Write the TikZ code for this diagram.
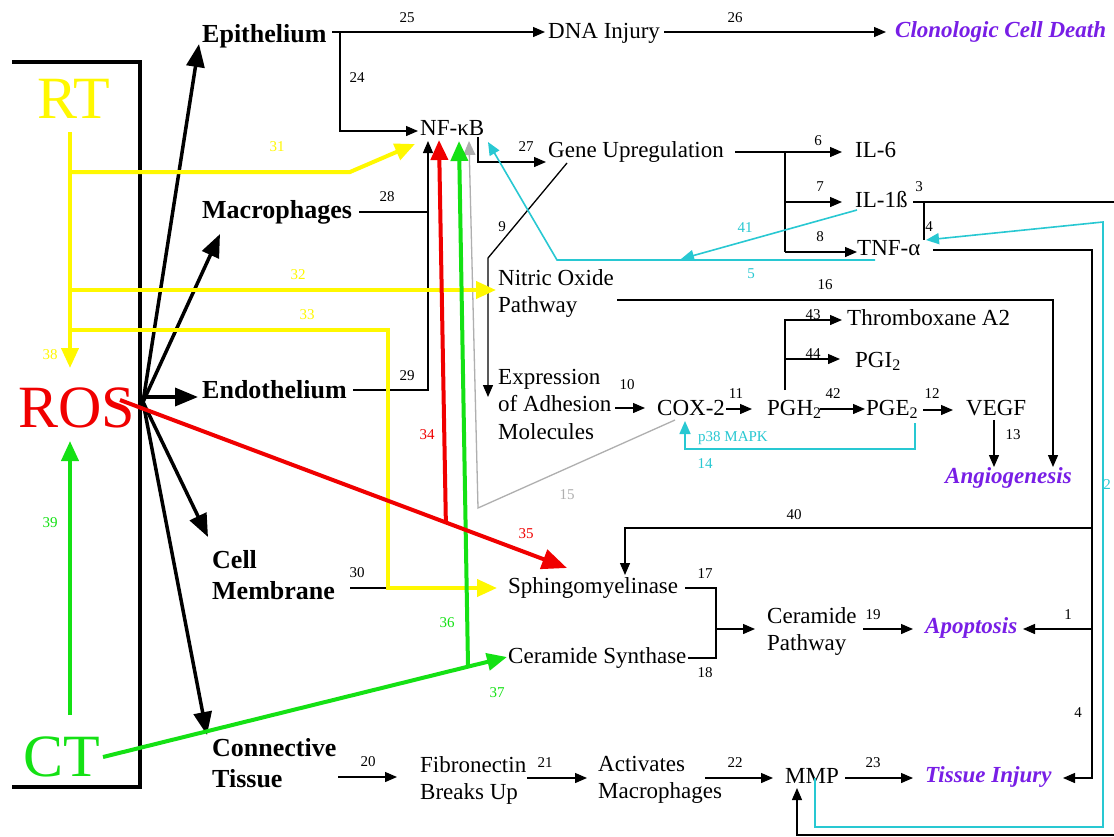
\documentclass[tikz,border=0pt]{standalone}
\usepackage{fontspec}
\setmainfont{Liberation Serif}
\usetikzlibrary{arrows.meta,calc}
\definecolor{ylw}{RGB}{255,248,0}
\definecolor{grn}{RGB}{20,225,20}
\definecolor{rd}{RGB}{240,0,0}
\definecolor{cyn}{RGB}{40,200,210}
\definecolor{gry}{RGB}{175,175,175}
\definecolor{prp}{RGB}{120,30,230}
\begin{document}
\begin{tikzpicture}[x=1pt,y=-1pt,
  txt/.style={font=\fontsize{23}{27.5}\selectfont, inner xsep=2pt, inner ysep=1pt, align=left},
  tis/.style={font=\fontsize{26}{31}\selectfont\bfseries, inner xsep=2pt, inner ysep=1pt, align=left},
  outc/.style={font=\fontsize{23}{27.5}\selectfont\bfseries\itshape, text=prp, inner xsep=2pt, inner ysep=1pt},
  num/.style={font=\fontsize{15}{15}\selectfont, inner sep=0pt},
  bigt/.style={font=\fontsize{60}{60}\selectfont, inner sep=0pt},
  ln/.style={line width=1.3pt},
  arr/.style={line width=1.3pt,-{Triangle[length=12pt,width=10pt]}},
  cyln/.style={line width=1.6pt,draw=cyn},
  cyarr/.style={cyln,-{Triangle[length=13pt,width=11pt]}},
  gyarr/.style={line width=1.3pt,draw=gry,-{Triangle[length=14pt,width=12pt]}},
  fat/.style={line width=4pt},
  fatarr/.style={line width=4pt,-{Triangle[length=20pt,width=17pt]}},
  bigarr/.style={line width=4pt,-{Triangle[length=25pt,width=20pt]}},
  hubarr/.style={line width=3.5pt,-{Triangle[length=23pt,width=18pt]}},
  bracket/.style={line width=4.5pt}
]
\useasboundingbox[fill=white] (0,0) rectangle (1114,836);

% ---------- big labels ----------
\node[bigt,text=ylw] (RT) at (74,99) {RT};
\node[bigt,text=rd] (ROS) at (77,408) {ROS};
\node[bigt,text=grn] (CT) at (62,757) {CT};

% ---------- tissues ----------
\node[tis,anchor=base west] (Epi) at (200,42) {Epithelium};
\node[tis,anchor=base west] (Mac) at (200,218) {Macrophages};
\node[tis,anchor=base west] (Endo) at (200,398) {Endothelium};
\node[tis,anchor=north west] (CellM) at (210,549) {Cell\\Membrane};
\node[tis,anchor=north west] (Conn) at (210,737) {Connective\\Tissue};

% ---------- pathway texts ----------
\node[txt,anchor=base west] (DNA) at (546,38) {DNA Injury};
\node[outc,anchor=base west] (Clono) at (893,37) {Clonologic Cell Death};
\node[txt,anchor=base west] (NFkB) at (418,135) {NF-κB};
\node[txt,anchor=base west] (Gene) at (546,157) {Gene Upregulation};
\node[txt,anchor=base west] (IL6) at (853,157) {IL-6};
\node[txt,anchor=base west] (IL1) at (853,207) {IL-1ß};
\node[txt,anchor=base west] (TNF) at (855,255) {TNF-α};
\node[txt,anchor=north west] (NO) at (496,268) {Nitric Oxide\\Pathway};
\node[txt,anchor=north west] (Expr) at (496,368) {Expression\\of Adhesion\\Molecules};
\node[txt,anchor=base west] (COX) at (655,415) {COX-2};
\node[txt,anchor=base west] (PGH) at (765,415) {PGH\textsubscript{2}};
\node[txt,anchor=base west] (PGE) at (864,415) {PGE\textsubscript{2}};
\node[txt,anchor=base west] (VEGF) at (964,415) {VEGF};
\node[txt,anchor=base west] (Thx) at (845,325) {Thromboxane A2};
\node[txt,anchor=base west] (PGI) at (853,367) {PGI\textsubscript{2}};
\node[outc,anchor=base west] (Angio) at (943,483) {Angiogenesis};
\node[txt,anchor=base west] (Sph) at (506,593) {Sphingomyelinase};
\node[txt,anchor=base west] (CerS) at (506,663) {Ceramide Synthase};
\node[txt,anchor=north west] (CerP) at (765,606) {Ceramide\\Pathway};
\node[outc,anchor=base west] (Apop) at (923,633) {Apoptosis};
\node[txt,anchor=north west] (Fib) at (418,755) {Fibronectin\\Breaks Up};
\node[txt,anchor=north west] (Act) at (596,755) {Activates\\Macrophages};
\node[txt,anchor=base west] (MMP) at (783,783) {MMP};
\node[outc,anchor=base west] (TInj) at (923,782) {Tissue Injury};
\node[font=\fontsize{15}{15}\selectfont,text=cyn,anchor=base west,inner sep=0pt] (p38) at (698,441) {p38 MAPK};

% ---------- bracket ----------
\draw[bracket] (12,62) -- (140,62) -- (140,787) -- (12,787);

% ---------- coordinates ----------
\coordinate (hub) at (143,402);
\coordinate (tEpi) at (199,44);
\coordinate (tMac) at (220,234);
\coordinate (tEndo) at (198,397);
\coordinate (tCell) at (208,537);
\coordinate (tConn) at (207,735);

% ---------- hub arrows ----------
\draw[hubarr] (hub) -- (tEpi);
\draw[hubarr] (hub) -- (tMac);
\draw[hubarr] (hub |- tEndo) -- (tEndo);
\draw[hubarr] (hub) -- (tCell);
\draw[hubarr] (hub) -- (tConn);

% ---------- thin black connectors ----------
\coordinate (e25) at (332,32);  \coordinate (t25) at (545,32);
\coordinate (b24) at (340,32);  \coordinate (c24) at (340,131); \coordinate (t24) at (418,131);
\coordinate (s26) at (664,32);  \coordinate (t26) at (886,32);
\coordinate (s28) at (359,212); \coordinate (c28) at (428,212); \coordinate (t28) at (428,141);
\coordinate (s29) at (353,390); \coordinate (c29) at (428,390);
\coordinate (s30) at (350,588); \coordinate (c30) at (388,588);
\coordinate (s20) at (338,777); \coordinate (t20) at (397,777);
\coordinate (s21) at (527,778); \coordinate (t21) at (587,778);
\coordinate (s22) at (705,778); \coordinate (t22) at (773,778);
\coordinate (s23) at (845,778); \coordinate (t23) at (913,778);
\coordinate (s27) at (478,137); \coordinate (c27) at (478,162); \coordinate (t27) at (546,162);
\coordinate (sG) at (735,152);  \coordinate (bG) at (785,152); \coordinate (t6) at (842,152);
\coordinate (b7) at (785,202);  \coordinate (t7) at (842,202);
\coordinate (b8) at (785,252);  \coordinate (t8) at (857,252);
\coordinate (s9) at (567,163);  \coordinate (c9) at (488,258); \coordinate (t9) at (488,397);
\coordinate (s16) at (617,300); \coordinate (c16) at (1053,300); \coordinate (t16) at (1053,467);
\coordinate (s10) at (615,408); \coordinate (t10) at (645,408);
\coordinate (s11) at (726,409); \coordinate (t11) at (752,409);
\coordinate (s42) at (820,409); \coordinate (t42) at (865,409);
\coordinate (s12) at (923,410); \coordinate (t12) at (953,410);
\coordinate (s13) at (994,420); \coordinate (t13) at (994,467);
\coordinate (s43) at (785,390); \coordinate (c43) at (785,320); \coordinate (t43) at (842,320);
\coordinate (b44) at (785,359); \coordinate (t44) at (840,359);
\coordinate (s17) at (685,588); \coordinate (c17) at (716,588);
\coordinate (c18) at (716,658); \coordinate (s18) at (688,658);
\coordinate (bCP) at (716,629); \coordinate (tCP) at (755,629);
\coordinate (s19) at (863,629); \coordinate (t19) at (913,629);
\coordinate (s3) at (913,202);  \coordinate (e3) at (1114,202);
\coordinate (b4) at (924,202);  \coordinate (e4) at (924,240);
\coordinate (sT) at (933,250);  \coordinate (cT) at (1092,250); \coordinate (dT) at (1092,778); \coordinate (tTI) at (1063,778);
\coordinate (b1) at (1092,629); \coordinate (t1) at (1023,629);
\coordinate (b40) at (1092,528); \coordinate (c40) at (625,528); \coordinate (t40) at (625,575);
\coordinate (sB) at (1114,835); \coordinate (cB) at (797,835); \coordinate (tB) at (797,788);

\draw[arr] (e25) -- (t25);
\draw[arr] (b24) -- (c24) -- (t24);
\draw[arr] (s26) -- (t26);
\draw[arr] (s28) -- (c28) -- (t28);
\draw[ln] (s29) -- (c29) -- (c28);
\draw[ln] (s30) -- (c30);
\draw[arr] (s20) -- (t20);
\draw[arr] (s21) -- (t21);
\draw[arr] (s22) -- (t22);
\draw[arr] (s23) -- (t23);
\draw[arr] (s27) -- (c27) -- (t27);
\draw[arr] (sG) -- (bG) -- (t6);
\draw[ln] (bG) -- (b8);
\draw[arr] (b7) -- (t7);
\draw[arr] (b8) -- (t8);
\draw[arr] (s9) -- (c9) -- (t9);
\draw[arr] (s16) -- (c16) -- (t16);
\draw[arr] (s10) -- (t10);
\draw[arr] (s11) -- (t11);
\draw[arr] (s42) -- (t42);
\draw[arr] (s12) -- (t12);
\draw[arr] (s13) -- (t13);
\draw[arr] (s43) -- (c43) -- (t43);
\draw[arr] (b44) -- (t44);
\draw[ln] (s17) -- (c17) -- (c18) -- (s18);
\draw[arr] (bCP) -- (tCP);
\draw[arr] (s19) -- (t19);
\draw[ln] (s3) -- (e3);
\draw[ln] (b4) -- (e4);
\draw[arr] (sT) -- (cT) -- (dT) -- (tTI);
\draw[arr] (b1) -- (t1);
\draw[arr] (b40) -- (c40) -- (t40);
\draw[arr] (sB) -- (cB) -- (tB);

% ---------- gray ----------
\coordinate (g15a) at (675,420); \coordinate (g15b) at (478,508); \coordinate (t15) at (469,141);
\draw[gyarr] (g15a) -- (g15b) -- (t15);

% ---------- cyan ----------
\coordinate (c5a) at (875,260); \coordinate (c5b) at (557,260); \coordinate (t5) at (488,142);
\draw[cyarr] (c5a) -- (c5b) -- (t5);
\coordinate (c41a) at (857,210); \coordinate (t41) at (681,259);
\draw[cyarr] (c41a) -- (t41);
\coordinate (c2a) at (815,778); \coordinate (c2b) at (815,827); \coordinate (c2c) at (1103,827);
\coordinate (c2d) at (1103,222); \coordinate (t2) at (926,240);
\draw[cyarr] (c2a) -- (c2b) -- (c2c) -- (c2d) -- (t2);
\coordinate (c14a) at (915,423); \coordinate (c14b) at (915,449); \coordinate (c14c) at (685,449); \coordinate (t14) at (685,421);
\draw[cyarr] (c14a) -- (c14b) -- (c14c) -- (t14);

% ---------- yellow ----------
\coordinate (rtS) at (70,132); \coordinate (tRos) at (70,368);
\draw[fatarr,draw=ylw] (rtS) -- (tRos);
\coordinate (y31) at (70,172); \coordinate (y31b) at (350,172); \coordinate (t31) at (415,144);
\draw[fatarr,draw=ylw] (y31) -- (y31b) -- (t31);
\coordinate (y32) at (70,290); \coordinate (t32) at (496,290);
\draw[fatarr,draw=ylw] (y32) -- (t32);
\coordinate (y33) at (70,330); \coordinate (y33b) at (388,330); \coordinate (y33c) at (388,588); \coordinate (t33) at (497,588);
\draw[fatarr,draw=ylw] (y33) -- (y33b) -- (y33c) -- (t33);

% ---------- green ----------
\coordinate (g39s) at (70,715); \coordinate (t39) at (70,441);
\draw[fatarr,draw=grn] (g39s) -- (t39);
\coordinate (g37s) at (103,757); \coordinate (t37) at (507,657);
\draw[fatarr,draw=grn] (g37s) -- (t37);
\coordinate (g36s) at ($(g37s)!0.9035!(t37)$); \coordinate (t36) at (459,141);
\draw[fatarr,draw=grn] (g36s) -- (t36);

% ---------- red ----------
\coordinate (r35s) at (120,400); \coordinate (t35) at (567,568);
\draw[bigarr,draw=rd] (r35s) -- (t35);
\coordinate (r34s) at ($(r35s)!0.729!(t35)$); \coordinate (t34) at (439,140);
\draw[fatarr,draw=rd] (r34s) -- (t34);

% ---------- number labels ----------
\node[num] (n25) at (407,18) {25};
\node[num] (n26) at (735,18) {26};
\node[num] (n24) at (357,78) {24};
\node[num,text=ylw] (n31) at (277,147) {31};
\node[num] (n28) at (387,197) {28};
\node[num] (n27) at (526,147) {27};
\node[num] (n9) at (502,227) {9};
\node[num] (n6) at (818,141) {6};
\node[num] (n7) at (820,187) {7};
\node[num] (n8) at (820,237) {8};
\node[num,text=cyn] (n41) at (745,228) {41};
\node[num,text=cyn] (n5) at (751,274) {5};
\node[num] (n3) at (919,187) {3};
\node[num] (n4a) at (929,227) {4};
\node[num,text=ylw] (n32) at (298,275) {32};
\node[num,text=ylw] (n33) at (307,315) {33};
\node[num,text=ylw] (n38) at (50,355) {38};
\node[num,text=grn] (n39) at (50,523) {39};
\node[num] (n29) at (407,376) {29};
\node[num,text=rd] (n34) at (427,435) {34};
\node[num] (n10) at (627,385) {10};
\node[num] (n11) at (736,394) {11};
\node[num,text=cyn] (n14) at (705,464) {14};
\node[num,text=gry] (n15) at (567,495) {15};
\node[num,text=rd] (n35) at (526,534) {35};
\node[num] (n16) at (825,285) {16};
\node[num] (n43) at (813,315) {43};
\node[num] (n44) at (813,354) {44};
\node[num] (n42) at (833,394) {42};
\node[num] (n12) at (932,394) {12};
\node[num] (n13) at (1013,435) {13};
\node[num] (n40) at (794,515) {40};
\node[num,text=cyn] (n2) at (1107,485) {2};
\node[num] (n30) at (357,573) {30};
\node[num] (n20) at (368,762) {20};
\node[num,text=grn] (n36) at (447,623) {36};
\node[num,text=grn] (n37) at (497,693) {37};
\node[num] (n17) at (705,574) {17};
\node[num] (n18) at (705,673) {18};
\node[num] (n21) at (545,763) {21};
\node[num] (n22) at (735,763) {22};
\node[num] (n19) at (873,615) {19};
\node[num] (n1) at (1068,615) {1};
\node[num] (n4b) at (1078,713) {4};
\node[num] (n23) at (873,763) {23};
\end{tikzpicture}
\end{document}
